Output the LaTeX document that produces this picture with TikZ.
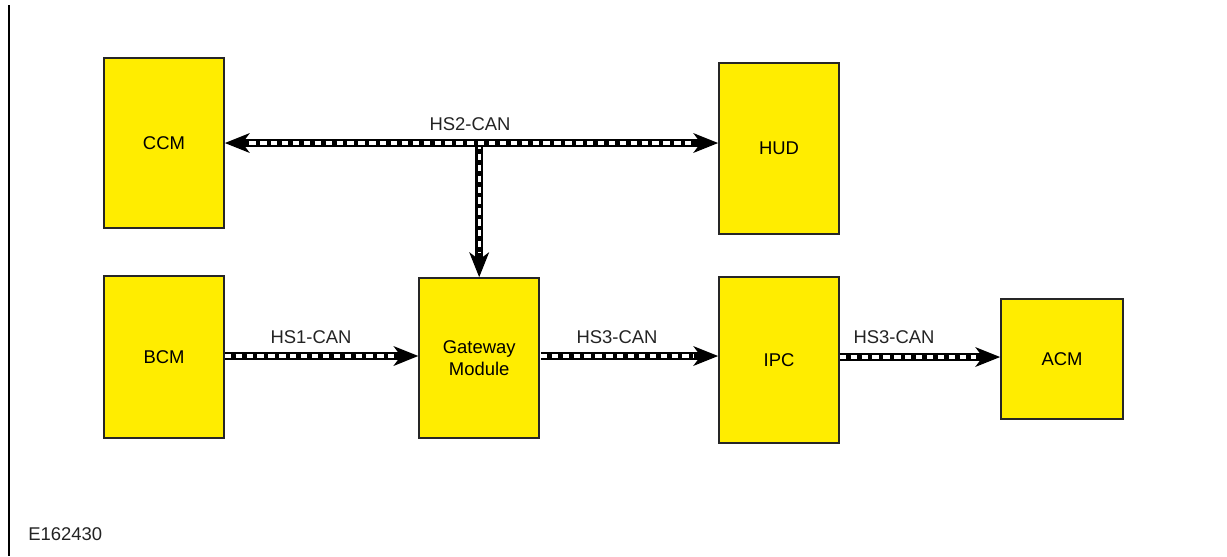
\documentclass[tikz,border=0pt]{standalone}
\usepackage{fontspec}
\setmainfont{Liberation Sans}
\usetikzlibrary{arrows.meta}
\definecolor{moduleyellow}{RGB}{255,237,0}
\definecolor{labelgray}{RGB}{35,35,35}

\tikzset{
  module/.style={draw=black!85,line width=0.9pt,fill=moduleyellow,minimum width=2.4cm,
    align=center,font=\fontsize{10.5}{12.5}\selectfont},
  buslabel/.style={text=labelgray,inner sep=0pt,font=\fontsize{10.5}{12.5}\selectfont},
  canbus/.style={line width=4.4pt,-{Stealth[length=14pt,width=11pt,inset=4pt]},
    postaction={draw=white,line width=1.9pt,-,shorten >=14pt,dash pattern=on 3.6pt off 2.6pt}},
  canbusboth/.style={line width=4.4pt,{Stealth[length=14pt,width=11pt,inset=4pt]}-{Stealth[length=14pt,width=11pt,inset=4pt]},
    postaction={draw=white,line width=1.9pt,-,shorten >=14pt,shorten <=14pt,dash pattern=on 3.6pt off 2.6pt}}
}

\begin{document}
\begin{tikzpicture}[x=0.02cm,y=-0.02cm]
\useasboundingbox (0,0) rectangle (1227,556);
\draw[line width=1pt] (9,5) -- (9,556);

% modules
\node [module,minimum height=3.4cm] (ccm) at (164,143) {CCM};
\node [module,minimum height=3.42cm] (hud) at (779,148.5) {HUD};
\node [module,minimum height=3.24cm] (bcm) at (164,357) {BCM};
\node [module,minimum height=3.2cm] (gw) at (479.2,358) {Gateway\\Module};
\node [module,minimum height=3.32cm] (ipc) at (779,360) {IPC};
\node [module,minimum width=2.44cm,minimum height=2.4cm] (acm) at (1062,359) {ACM};

% buses
\coordinate (hs2j) at (ccm.east -| gw.north);
\draw[canbus] (hs2j) -- (gw.north);
\draw[canbusboth] (ccm.east) -- (ccm.east -| hud.west);
\draw[canbus] (bcm.east |- 0,356) -- (gw.west |- 0,356);
\draw[canbus] ([xshift=0.5pt]gw.east |- 0,356) -- (ipc.west |- 0,356);
\draw[canbus] (ipc.east |- 0,357) -- (acm.west |- 0,357);

\node [buslabel] (hs2lbl) at (470,124) {HS2-CAN};
\node [buslabel] (hs1lbl) at (311,337) {HS1-CAN};
\node [buslabel] (hs3lbla) at (617,337) {HS3-CAN};
\node [buslabel] (hs3lblb) at (894,337) {HS3-CAN};

\node [buslabel,anchor=west] (fig) at (28,534) {E162430};
\end{tikzpicture}
\end{document}
